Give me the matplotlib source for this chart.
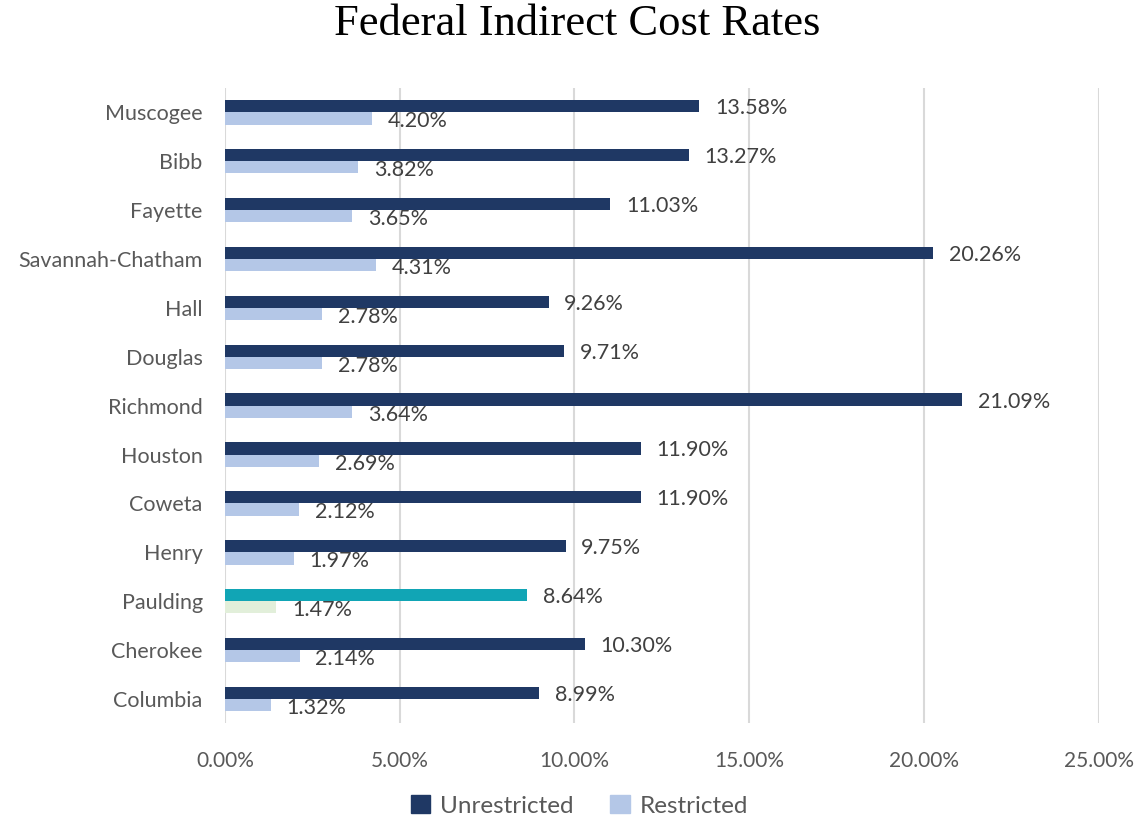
import numpy as np
import matplotlib.pyplot as plt
from matplotlib.patches import Patch

districts = ["Muscogee", "Bibb", "Fayette", "Savannah-Chatham", "Hall", "Douglas",
             "Richmond", "Houston", "Coweta", "Henry", "Paulding", "Cherokee", "Columbia"]
unrestricted = [13.58, 13.27, 11.03, 20.26, 9.26, 9.71, 21.09, 11.90, 11.90, 9.75, 8.64, 10.30, 8.99]
restricted = [4.20, 3.82, 3.65, 4.31, 2.78, 2.78, 3.64, 2.69, 2.12, 1.97, 1.47, 2.14, 1.32]

navy = "#1F3864"
light_blue = "#B4C7E7"
highlight = {"Paulding": ("#11A5B5", "#E2EFDA")}

plt.rcParams['font.family'] = ['Lato', 'DejaVu Sans']

fig, ax = plt.subplots(figsize=(11.36, 8.22), dpi=100)
fig.subplots_adjust(left=0.198, right=0.967, top=0.893, bottom=0.12)

y = np.arange(len(districts))
h = 0.25
for i, name in enumerate(districts):
    c_u, c_r = highlight.get(name, (navy, light_blue))
    ax.barh(y[i] - h / 2, unrestricted[i], height=h, color=c_u)
    ax.barh(y[i] + h / 2, restricted[i], height=h, color=c_r)
    ax.text(unrestricted[i] + 0.45, y[i] - h / 2 + 0.04, f"{unrestricted[i]:.2f}%",
            va="center", ha="left", fontsize=15.5, color="#404040")
    ax.text(restricted[i] + 0.45, y[i] + h / 2 + 0.06, f"{restricted[i]:.2f}%",
            va="center", ha="left", fontsize=15.5, color="#404040")

ax.set_xlim(0, 25)
ax.set_ylim(len(districts) - 0.5, -0.5)
ax.set_xticks(np.arange(0, 26, 5))
ax.set_xticklabels([f"{v:.2f}%" for v in np.arange(0, 26, 5)])
ax.set_yticks(y)
ax.set_yticklabels(districts)
ax.tick_params(axis="both", length=0, labelcolor="#595959")
ax.tick_params(axis="x", pad=20, labelsize=15)
ax.tick_params(axis="y", pad=16, labelsize=15.5)
ax.grid(axis="x", color="#D9D9D9", linewidth=1.5)
ax.set_axisbelow(True)
for s in ax.spines.values():
    s.set_visible(False)

fig.suptitle("Federal Indirect Cost Rates", fontsize=32, family="Liberation Serif",
             y=0.995, x=0.508)

handles = [Patch(color=navy, label="Unrestricted"), Patch(color=light_blue, label="Restricted")]
fig.legend(handles=handles, loc="lower center", ncol=2, frameon=False, fontsize=17.5,
           bbox_to_anchor=(0.51, -0.02), handlelength=0.8, handleheight=0.8,
           columnspacing=1.5, handletextpad=0.4, labelcolor="#595959")

fig.savefig("out.png", dpi=100)
